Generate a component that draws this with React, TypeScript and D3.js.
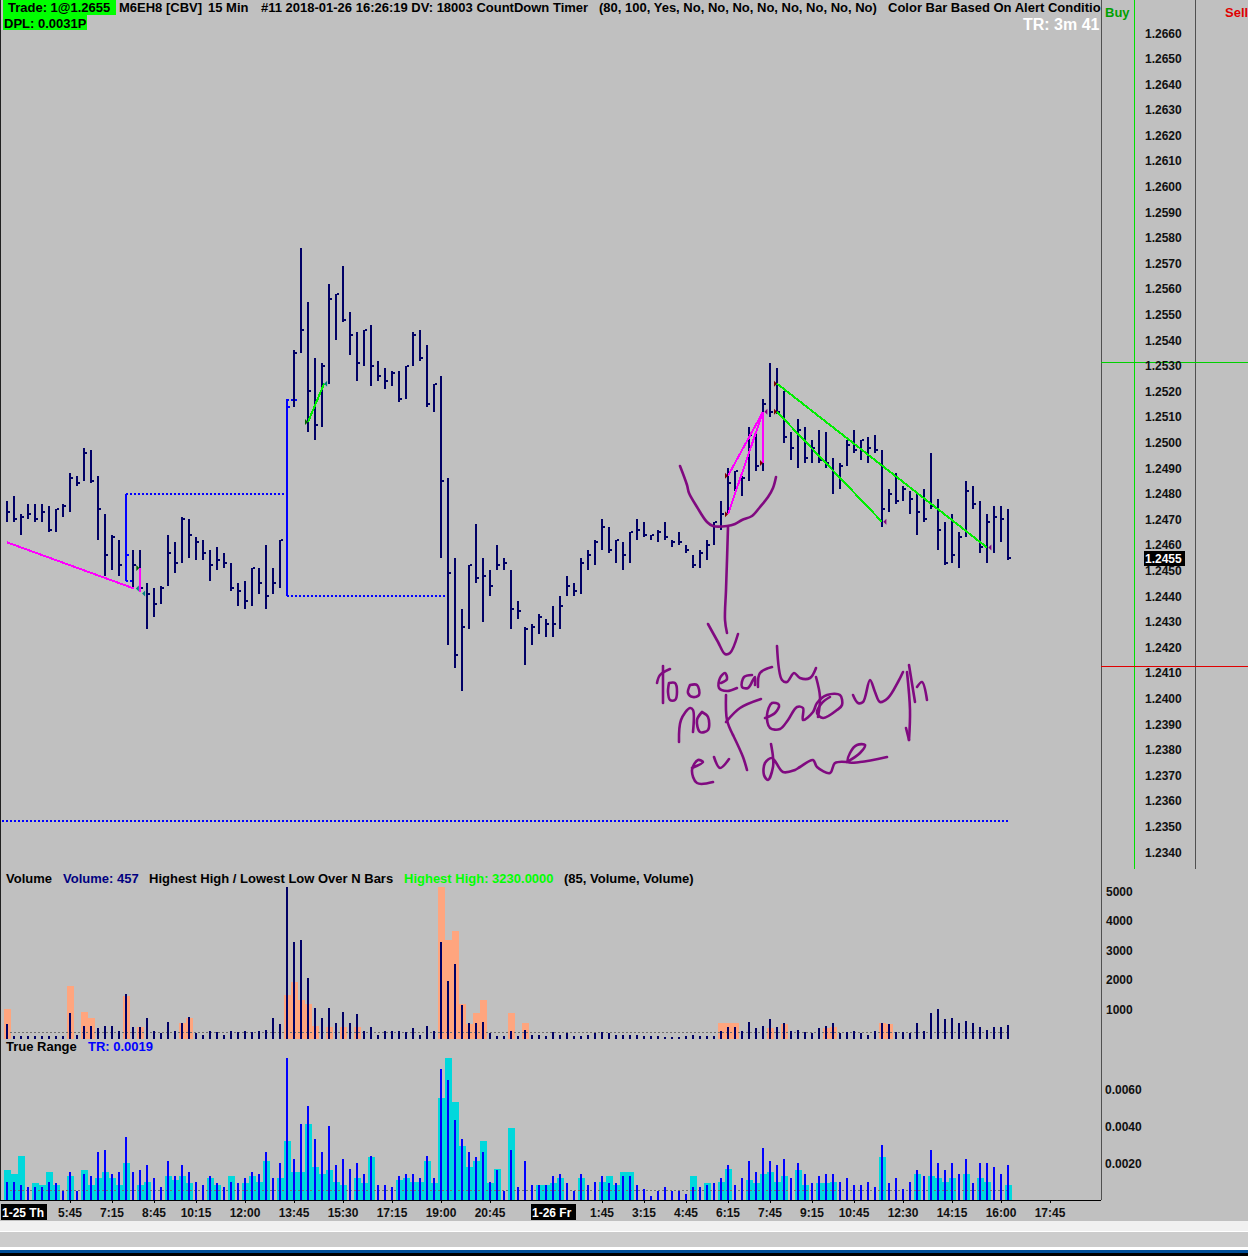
import * as d3 from "d3";

const tickSize = 0.0001;

// price bars, in contract ticks (12477 = 1.2477), one per 15 min from 3:30 on 1-25
const highs = [
    12477,12479,12472,12476,12476,12476,12475,12474,12476,12488,
    12487,12498,12497,12487,12472,12464,12462,12480,12458,12458,
    12445,12443,12444,12464,12461,12471,12470,12463,12462,12458,
    12459,12457,12453,12445,12446,12451,12451,12460,12451,12462,
    12517,12536,12576,12555,12533,12531,12562,12558,12569,12551,
    12543,12544,12546,12532,12529,12528,12528,12530,12543,12544,
    12538,12523,12526,12486,12455,12435,12452,12468,12455,12450,
    12460,12455,12450,12438,12428,12429,12433,12431,12436,12440,
    12448,12445,12455,12458,12462,12470,12467,12462,12461,12465,
    12470,12469,12464,12466,12469,12462,12465,12460,12456,12458,
    12462,12469,12477,12490,12489,12487,12506,12504,12517,12531,
    12529,12520,12504,12509,12506,12501,12505,12504,12494,12492,
    12501,12505,12501,12502,12503,12497,12482,12488,12483,12481,
    12480,12482,12496,12478,12469,12472,12465,12485,12483,12477,
    12472,12475,12475,12474];
const lows = [
    12469,12469,12464,12470,12469,12469,12465,12465,12471,12473,
    12483,12485,12484,12462,12448,12450,12448,12446,12443,12443,
    12427,12432,12437,12444,12449,12453,12455,12454,12454,12446,
    12450,12451,12442,12436,12435,12436,12441,12435,12441,12443,
    12440,12514,12535,12504,12501,12506,12523,12540,12547,12534,
    12524,12530,12522,12524,12521,12522,12516,12517,12530,12532,
    12514,12512,12455,12421,12412,12403,12427,12445,12430,12440,
    12450,12450,12427,12431,12413,12421,12425,12424,12424,12427,
    12440,12440,12441,12450,12452,12458,12457,12453,12450,12453,
    12462,12463,12462,12461,12462,12459,12460,12457,12451,12451,
    12454,12460,12466,12472,12481,12479,12485,12489,12489,12510,
    12511,12500,12493,12490,12492,12492,12492,12490,12480,12482,
    12491,12496,12493,12492,12496,12467,12473,12476,12477,12472,
    12464,12469,12474,12458,12452,12453,12451,12463,12474,12457,
    12453,12457,12461,12454];
const closes = [
    12473,12470,12471,12472,12470,12473,12466,12474,12475,12486,
    12484,12496,12485,12474,12456,12463,12452,12456,12452,12443,
    12441,12437,12443,12457,12453,12470,12464,12461,12457,12452,
    12454,12453,12443,12442,12438,12451,12445,12440,12445,12462,
    12514,12535,12544,12520,12507,12530,12556,12558,12548,12542,
    12531,12544,12530,12526,12524,12527,12517,12530,12542,12533,
    12515,12523,12485,12449,12417,12428,12452,12447,12448,12444,
    12452,12453,12435,12434,12427,12428,12432,12429,12429,12436,
    12444,12442,12453,12456,12461,12467,12458,12462,12456,12465,
    12466,12464,12464,12465,12463,12461,12461,12458,12452,12457,
    12460,12469,12472,12484,12489,12486,12503,12491,12515,12512,
    12512,12502,12498,12505,12494,12498,12493,12492,12488,12491,
    12499,12497,12501,12498,12497,12474,12480,12477,12482,12478,
    12473,12470,12475,12466,12453,12456,12463,12481,12476,12459,
    12469,12471,12470,12455];
const blueBars = [17, 40];

const volumes = [
    475,100,100,80,100,100,70,80,100,850,
    135,440,440,340,440,440,240,1525,405,375,
    680,240,170,575,270,510,745,170,135,270,
    205,135,270,205,270,205,240,305,680,475,
    5150,3255,3355,2035,1050,680,1050,540,915,540,
    815,270,405,135,270,240,240,205,340,135,
    440,270,3255,1965,2540,1120,540,540,575,170,
    100,70,270,70,305,135,135,70,205,135,
    170,100,100,135,170,205,170,135,135,135,
    135,100,70,70,35,35,35,70,135,70,
    70,100,240,375,405,240,575,340,440,645,
    375,540,270,305,205,170,340,440,540,170,
    205,270,170,135,240,540,475,205,205,170,
    540,270,850,985,645,680,510,610,540,405,
    305,405,375,457];
const salmonIndex = [0,9,11,12,17,19,25,26,40,41,42,43,44,46,48,50,62,63,64,65,66,67,68,72,74,102,103,104,109,111,117,118,125,126];
const salmonVolume = [1015,1785,915,680,1425,375,510,680,1460,1930,1290,1155,440,405,405,405,5150,3355,3660,1175,475,880,1290,880,540,510,540,510,340,475,340,375,540,475];

// true range in ticks
const trueRange = [
    10,10,8,7,7,7,10,9,5,15,
    5,14,13,26,27,14,15,34,15,16,
    19,12,7,21,13,19,15,10,8,13,
    9,7,10,9,12,15,14,26,12,20,
    77,22,41,51,33,26,40,19,22,17,
    20,14,24,8,8,7,13,14,14,12,
    24,12,71,65,43,33,26,23,26,10,
    16,5,27,7,21,8,8,8,13,14,
    9,5,14,8,10,13,9,9,13,13,
    8,6,2,5,7,5,5,3,7,7,
    8,9,12,19,8,12,21,15,28,21,
    19,22,12,20,14,9,13,14,14,10,
    12,8,8,10,7,30,9,12,6,10,
    16,13,27,20,16,20,14,22,9,20,
    20,18,14,19];
const cyanIndex = [0,1,2,4,5,6,7,9,11,12,13,14,15,16,17,19,20,23,24,25,26,29,30,32,34,35,36,37,39,40,41,42,43,44,45,46,47,48,50,51,52,56,57,58,59,60,61,62,63,64,65,66,67,68,69,70,72,76,77,78,79,82,85,86,87,88,89,98,100,102,103,106,107,108,109,110,111,113,114,116,117,118,125,130,132,133,134,135,137,139,140,143];
const cyanRange = [16,14,24,9,8,15,8,13,16,8,12,15,12,8,20,8,10,13,11,13,9,12,8,13,9,13,10,21,12,32,15,15,41,18,14,16,10,8,12,9,23,11,12,10,10,21,9,55,77,53,29,18,21,32,9,17,39,8,8,9,12,12,10,13,8,15,15,13,9,10,17,11,9,14,15,10,13,16,8,9,9,10,23,14,13,12,10,12,14,12,10,8];

const priceTicks = [12660,12650,12640,12630,12620,12610,12600,12590,12580,12570,12560,12550,12540,12530,12520,12510,12500,12490,12480,12470,12460,12450,12440,12430,12420,12410,12400,12390,12380,12370,12360,12350,12340];
const volumeTicks = [5000,4000,3000,2000,1000];
const rangeTicks = [0.006,0.004,0.002];
const timeIndex = [9,15,21,27,34,41,48,55,62,69,85,91,97,103,109,115,121,128,135,142,149];
const timeLabels = ["5:45","7:15","8:45","10:15","12:00","13:45","15:30","17:15","19:00","20:45","1:45","3:15","4:45","6:15","7:45","9:15","10:45","12:30","14:15","16:00","17:45"];
const dateIndex = [0,78];
const dateLabels = ["1-25 Th","1-26 Fr"];

// [from index, from ticks, to index, to ticks]
const magentaLines = [[0,12461,18.1,12443],[19,12451,19,12441.5],[103,12487,108,12512],[103,12472,108,12512],[108,12492,108,12512]];
const greenLines = [[43,12508,45.3,12523],[110,12523,140,12459],[110,12512,125,12469]];
const dottedLevels = [[17,40,12480],[17,18,12446],[40,41.4,12516.5],[40,62.9,12440],[-0.7,143,12352]];
// [index, ticks, colour, 1 = points right and sits left of the index]
const markers: [number, number, string, number][] = [
    [18.4,12443,"#008080",0],[18.9,12451,"#006400",1],[19.3,12441,"#008080",0],
    [43,12508,"#006400",1],[45.3,12523,"#008080",0],
    [103,12487,"#800000",1],[103,12472,"#800000",1],[108,12492,"#800000",1],[110,12523,"#800000",1],[110,12512,"#800000",1],
    [108.2,12512,"#800080",0],[125.2,12469,"#800080",0],[140.2,12459,"#800080",0],
];

// hand drawn note, screen pixels of the pen
const penStrokes: [number, number][][] = [
    [[680,466],[687,485],[689,493],[697,507],[707,522],[713,526],[727,526],[735,524],[742,520],[752,516],[760,507],[768,497],[773,488],[776,477]],
    [[728,527],[727,560],[726,590],[725,620],[727,633]],
    [[708,624],[718,642],[725,654],[730,653],[738,634]],
    [[663,666],[663,703]],
    [[657,683],[660,675],[670,669]],
    [[669,683],[675,683],[677,692],[675,700],[670,700],[668,692],[669,683]],
    [[690,685],[697,685],[699,695],[693,697],[688,693],[690,685]],
    [[721,683],[727,679],[725,673],[720,678],[719,688],[727,691],[737,688]],
    [[752,675],[744,677],[742,687],[748,688],[753,680],[755,677],[755,685]],
    [[758,687],[760,673],[772,667]],
    [[777,646],[782,680],[787,682],[794,673],[800,678],[810,678],[816,668]],
    [[816,677],[820,697],[818,717]],
    [[679,742],[681,720],[690,708],[693,710],[693,732]],
    [[702,712],[708,717],[708,730],[700,732],[697,720],[702,712]],
    [[726,695],[727,720],[733,735]],
    [[726,722],[740,708],[761,699]],
    [[765,718],[775,713],[779,705],[772,703],[767,715],[770,728],[780,729],[788,720],[797,707],[803,708],[803,720],[813,712],[817,703],[827,695],[840,695],[842,705],[837,710],[823,718],[817,713],[822,703],[830,697]],
    [[853,695],[858,703],[863,702],[870,680],[875,692],[880,702],[888,698],[898,682],[903,672]],
    [[907,672],[910,710],[909,740]],
    [[906,728],[909,740]],
    [[909,665],[915,702]],
    [[917,687],[922,682],[927,700]],
    [[692,768],[703,762],[698,760],[692,770],[697,783],[713,782]],
    [[714,757],[720,768],[729,759]],
    [[733,735],[743,757],[747,770]],
    [[771,744],[773,757],[773,767],[768,780],[764,775],[765,763],[772,758],[783,772],[795,770],[800,767],[813,760],[817,767],[830,773],[835,763],[847,762]],
    [[847,762],[860,753],[865,745],[857,745],[850,753],[848,762],[860,762],[887,757]],
];

const x = d3.scaleLinear().domain([0, 149]).range([7, 1050]);
const yPrice = d3.scaleLinear().domain([12340, 12660]).range([852, 33]);
const yVolume = d3.scaleLinear().domain([0, 5000]).range([1038.5, 891]);
const yRange = d3.scaleLinear().domain([0, 60]).range([1200, 1089]);

const navy = "#000066";
const font = "'Liberation Sans', Arial, sans-serif";
const pen = d3.line().curve(d3.curveCatmullRom);
const segment = d3.line();

function TrendLines(props: {lines: number[][]; color: string}) {
    return <g>
        {props.lines.map((l, i) => (
            <path key={i} d={segment([[x(l[0]), yPrice(l[1])], [x(l[2]), yPrice(l[3])]]) ?? ""}
                  fill="none" stroke={props.color} strokeWidth={2} shapeRendering="crispEdges"/>
        ))}
    </g>;
}

export default function App() {
    const t = {fontFamily: font, fontSize: 13, fontWeight: 700};
    const axisText = {fontFamily: font, fontSize: 12, fontWeight: 700, fill: "#101010"};
    return <svg width={1248} height={1256} style={{position: "absolute", left: 0, top: 0, background: "#fff"}}>
        <defs>
            <clipPath id="title"><rect x={0} y={0} width={1101} height={40}/></clipPath>
        </defs>
        <rect x={0} y={0} width={1248} height={1221} fill="#c0c0c0"/>
        <rect x={0} y={1221} width={1248} height={10} fill="#f0f0f0"/>
        <rect x={0} y={1232} width={1248} height={15} fill="#cccccc"/>
        <rect x={0} y={1250} width={1248} height={3} fill="#004e98"/>
        <rect x={0} y={1253} width={1248} height={3} fill="#000"/>

        {/* frame */}
        <rect x={0} y={0} width={1} height={1200} fill="#202020"/>
        <rect x={1101} y={0} width={1} height={1200} fill="#505050"/>
        <rect x={1134} y={0} width={1} height={869} fill="#00e000"/>
        <rect x={1195} y={0} width={1} height={869} fill="#505050"/>
        <rect x={1101} y={362} width={147} height={1} fill="#00d000"/>
        <rect x={1101} y={666} width={147} height={1} fill="#e00000"/>
        <rect x={0} y={1200} width={1101} height={1} fill="#000"/>

        {/* dotted levels */}
        {dottedLevels.map((l, i) => (
            <line key={i} x1={x(l[0])} x2={x(l[1])} y1={yPrice(l[2])} y2={yPrice(l[2])} stroke="#0000ff"
                  strokeWidth={2} strokeDasharray="2 2" shapeRendering="crispEdges"/>
        ))}

        {/* price bars */}
        <g shapeRendering="crispEdges">
            {highs.map((h, i) => {
                const color = blueBars.includes(i) ? "#0000ff" : navy;
                return <g key={i} fill={color}>
                    <rect x={x(i) - 1} y={yPrice(h)} width={2} height={yPrice(lows[i]) - yPrice(h)}/>
                    <rect x={x(i) + 1} y={yPrice(closes[i]) - 1} width={2} height={2}/>
                </g>;
            })}
        </g>

        <TrendLines lines={magentaLines} color="#ff00ff"/>
        <TrendLines lines={greenLines} color="#00ee00"/>
        {markers.map((m, i) => {
            const px = x(m[0]), py = yPrice(m[1]);
            const d = m[3] ? `M${px - 3},${py - 3}L${px},${py}L${px - 3},${py + 3}Z` : `M${px + 3},${py - 3}L${px},${py}L${px + 3},${py + 3}Z`;
            return <path key={i} d={d} fill={m[2]}/>;
        })}

        {/* hand note */}
        {penStrokes.map((s, i) => (
            <path key={i} d={pen(s) ?? ""} fill="none" stroke="#800a80" strokeWidth={2.6} strokeLinecap="round" strokeLinejoin="round"/>
        ))}

        {/* volume pane */}
        <g shapeRendering="crispEdges">
            {salmonIndex.map((d, i) => (
                <rect key={d} x={x(d) - 3} y={yVolume(salmonVolume[i])} width={7} height={yVolume(0) - yVolume(salmonVolume[i])} fill="#ffa57e"/>
            ))}
            <line x1={10} x2={1007} y1={yVolume(190)} y2={yVolume(190)} stroke="#707070" strokeDasharray="2 2"/>
            {volumes.map((v, i) => (
                <rect key={i} x={x(i) - 1} y={yVolume(v)} width={2} height={yVolume(0) - yVolume(v)} fill={navy}/>
            ))}
        </g>

        {/* true range pane */}
        <g shapeRendering="crispEdges">
            {cyanIndex.map((d, i) => (
                <rect key={d} x={x(d) - 3} y={yRange(cyanRange[i])} width={7} height={yRange(0) - yRange(cyanRange[i])} fill="#00d8dc"/>
            ))}
            <line x1={10} x2={1007} y1={yRange(5)} y2={yRange(5)} stroke="#707070" strokeDasharray="2 2"/>
            {trueRange.map((v, i) => (
                <rect key={i} x={x(i) - 1} y={yRange(v)} width={2} height={yRange(0) - yRange(v)} fill="#0000ff"/>
            ))}
        </g>

        {/* header */}
        <rect x={3} y={0} width={113} height={15} fill="#00ff00"/>
        <rect x={3} y={15} width={84} height={15} fill="#00ff00"/>
        <g clipPath="url(#title)" style={t} fill="#000">
            <text x={8} y={12}>Trade: 1@1.2655</text>
            <text x={119} y={12}>M6EH8 [CBV]</text>
            <text x={208} y={12}>15 Min</text>
            <text x={261} y={12}>#11 2018-01-26 16:26:19 DV: 18003 CountDown Timer</text>
            <text x={599} y={12}>(80, 100, Yes, No, No, No, No, No, No, No, No)</text>
            <text x={888} y={12}>Color Bar Based On Alert Conditio</text>
            <text x={4} y={28}>DPL: 0.0031P</text>
            <text x={1023} y={30} fill="#fff" style={{fontSize: 16, fontWeight: 700}}>TR: 3m 41</text>
        </g>
        <text x={1105} y={17} style={t} fill="#00a000">Buy</text>
        <text x={1225} y={17} style={t} fill="#e00000">Sell</text>

        {/* price axis */}
        {priceTicks.map(p => (
            <text key={p} x={1145} y={yPrice(p) + 4.5} style={axisText}>{d3.format(".4f")(p * tickSize)}</text>
        ))}
        <rect x={1144} y={551} width={41} height={15} fill="#000"/>
        <text x={1145} y={563} style={{...axisText, fill: "#fff"}}>{d3.format(".4f")(closes[closes.length - 1] * tickSize)}</text>

        {/* pane legends */}
        <g style={t} fill="#000">
            <text x={6} y={883}>Volume</text>
            <text x={63} y={883} fill="#000080">Volume: 457</text>
            <text x={149} y={883}>Highest High / Lowest Low Over N Bars</text>
            <text x={404} y={883} fill="#00ff00">Highest High: 3230.0000</text>
            <text x={564} y={883}>(85, Volume, Volume)</text>
            <text x={6} y={1051}>True Range</text>
            <text x={88} y={1051} fill="#0000ff">TR: 0.0019</text>
        </g>
        {volumeTicks.map(v => (
            <text key={v} x={1106} y={yVolume(v) + 4.5} style={axisText}>{v}</text>
        ))}
        {rangeTicks.map(v => (
            <text key={v} x={1105} y={yRange(v * 10000) + 4.5} style={axisText}>{d3.format(".4f")(v)}</text>
        ))}

        {/* time axis */}
        {timeIndex.map((d, i) => (
            <g key={d}>
                <rect x={x(d)} y={1200} width={1} height={3} fill="#000"/>
                <text x={x(d)} y={1217} textAnchor="middle" style={axisText}>{timeLabels[i]}</text>
            </g>
        ))}
        {dateIndex.map((d, i) => (
            <g key={d}>
                <rect x={x(d) - 6 - (i ? 16 : 0)} y={1204} width={i ? 45 : 46} height={16} fill="#000"/>
                <text x={x(d) - 5 - (i ? 16 : 0)} y={1217} style={{...axisText, fill: "#fff"}}>{dateLabels[i]}</text>
            </g>
        ))}
    </svg>;
}
